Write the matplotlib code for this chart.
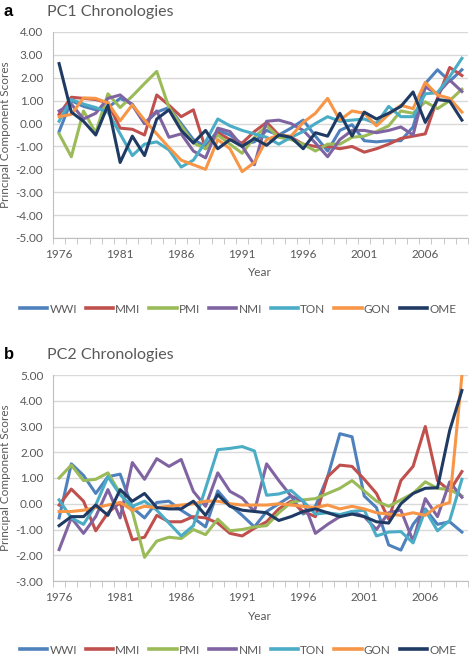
import numpy as np
import matplotlib.pyplot as plt

years = list(range(1976, 2010))
names = ['WWI', 'MMI', 'PMI', 'NMI', 'TON', 'GON', 'OME']
colors = ['#4F81BD', '#C0504D', '#9BBB59', '#8064A2', '#4BACC6', '#F79646', '#1F3B64']

# PC1 scores, 1976-2009
pc1_wwi = [-0.35, 1.0, 0.75, 0.6, 0.7, 1.1, 0.85, 0.0, 0.5, 0.7, 0.0, -0.7, -1.0, -0.3, -0.5, -0.9, -0.8,
           -0.3, -0.5, -0.2, 0.15, -0.55, -1.2, -0.3, -0.05, -0.75, -0.8, -0.75, -0.75, -0.15, 1.75, 2.35, 1.85, 2.35]
pc1_mmi = [0.4, 1.15, 1.1, 1.05, 0.9, -0.2, -0.25, -0.5, 1.25, 0.8, 0.3, 0.6, -1.1, -0.4, -0.7, -0.85, -0.35,
           0.05, -0.5, -0.6, -0.9, -1.0, -1.0, -1.1, -1.0, -1.25, -1.1, -0.9, -0.65, -0.55, -0.45, 1.1, 2.45, 2.1]
pc1_pmi = [-0.45, -1.45, 0.55, -0.4, 1.3, 0.7, 1.2, 1.75, 2.28, 0.7, -0.1, -0.85, -1.1, -0.5, -0.9, -1.3, -0.6,
           -0.1, -0.6, -0.7, -0.9, -1.2, -0.9, -0.9, -0.6, -0.55, -0.35, -0.1, 0.55, 0.45, 0.95, 0.65, 1.0, 1.5]
pc1_nmi = [0.55, 0.85, 0.2, 0.45, 1.1, 1.25, 0.8, 0.0, 0.55, -0.6, -0.45, -1.2, -1.5, -0.2, -0.35, -1.0, -1.8,
           0.1, 0.15, 0.0, -0.3, -0.85, -1.45, -0.7, -0.3, -0.3, -0.4, -0.3, -0.15, -0.5, 1.6, 1.3, 1.9, 1.4]
pc1_ton = [0.1, 1.05, 0.85, 0.7, 0.5, -0.45, -1.4, -0.9, -0.8, -1.15, -1.9, -1.6, -0.8, 0.2, -0.1, -0.3, -0.45,
           -0.6, -0.9, -0.6, -0.35, 0.0, 0.3, 0.1, 0.15, 0.2, 0.0, 0.75, 0.3, 0.3, 1.3, 1.35, 2.05, 2.85]
pc1_gon = [0.3, 0.4, 1.12, 1.1, 0.9, 0.12, 0.82, 0.15, -0.45, -1.05, -1.6, -1.8, -2.0, -0.7, -1.1, -2.1, -1.7,
           -0.7, -0.5, -0.55, 0.05, 0.45, 1.1, 0.15, 0.55, 0.45, -0.1, 0.4, 0.8, 0.65, 1.8, 1.25, 1.1, 0.5]
pc1_ome = [2.62, 0.5, 0.1, -0.5, 0.8, -1.7, -0.55, -1.4, 0.2, 0.6, -0.3, -0.85, -0.3, -1.1, -0.7, -1.0, -0.65,
           -0.95, -0.5, -0.6, -1.1, -0.4, -0.55, 0.45, -0.55, 0.5, 0.2, 0.45, 0.75, 1.38, 0.05, 1.05, 0.98, 0.15]

# PC2 scores, 1976-2009
pc2_wwi = [-0.55, 1.55, 1.1, 0.4, 1.05, 1.15, -0.15, -0.55, 0.05, 0.1, -0.25, -0.55, -0.9, 0.5, -0.05, -0.45, -0.9,
           -0.3, 0.0, 0.3, -0.4, -0.1, 1.05, 2.72, 2.6, 0.3, -0.15, -1.6, -1.8, -0.8, -0.2, -0.8, -0.7, -1.1]
pc2_mmi = [-0.05, 0.57, 0.1, -1.05, -0.35, 0.05, -1.4, -1.3, -0.45, -0.7, -0.7, -0.5, -0.55, -0.75, -1.15, -1.25, -0.95,
           -0.7, -0.2, 0.1, -0.3, -0.5, 1.05, 1.5, 1.45, 0.95, 0.4, -0.6, 0.9, 1.45, 3.0, 0.9, 0.5, 1.25]
pc2_pmi = [1.0, 1.5, 0.9, 0.95, 1.2, 0.4, -0.3, -2.08, -1.45, -1.3, -1.35, -1.0, -1.2, -0.6, -1.05, -1.0, -0.9,
           -0.85, -0.35, 0.05, 0.15, 0.2, 0.4, 0.6, 0.9, 0.5, 0.1, -0.1, 0.15, 0.4, 0.85, 0.6, 0.55, 0.3]
pc2_nmi = [-1.78, -0.55, -1.15, -0.5, 0.55, -0.55, 1.6, 0.95, 1.75, 1.45, 1.72, 0.48, -0.1, 1.2, 0.48, 0.22, -0.3,
           1.55, 0.9, 0.3, 0.1, -1.15, -0.8, -0.5, -0.3, -0.5, -1.0, -0.35, -0.25, -1.45, 0.2, -0.5, 0.85, 0.25]
pc2_ton = [0.15, -0.55, -0.8, -0.05, 1.05, 0.35, -0.1, 0.1, -0.25, -0.75, -1.25, -0.85, 0.6, 2.1, 2.15, 2.22, 2.05,
           0.33, 0.38, 0.52, 0.1, -0.4, -0.35, -0.42, -0.3, -0.25, -1.25, -1.1, -1.08, -1.52, -0.25, -1.05, -0.65, 0.95]
pc2_gon = [-0.3, -0.3, -0.25, -0.15, -0.05, 0.05, -0.25, -0.1, -0.15, -0.1, -0.05, 0.0, 0.1, 0.1, 0.0, -0.05, -0.05,
           -0.05, 0.0, -0.05, -0.1, -0.15, -0.05, -0.2, -0.1, -0.2, -0.35, -0.4, -0.45, -0.35, -0.45, -0.1, 0.05, 4.98]
pc2_ome = [-0.85, -0.5, -0.5, -0.05, -0.45, 0.55, 0.1, 0.4, -0.15, -0.2, -0.2, 0.1, -0.45, 0.35, -0.1, -0.25, -0.3,
           -0.35, -0.65, -0.5, -0.3, -0.2, -0.35, -0.5, -0.4, -0.5, -0.7, -0.75, 0.0, 0.4, 0.6, 0.62, 2.85, 4.4]

pc1 = [pc1_wwi, pc1_mmi, pc1_pmi, pc1_nmi, pc1_ton, pc1_gon, pc1_ome]
pc2 = [pc2_wwi, pc2_mmi, pc2_pmi, pc2_nmi, pc2_ton, pc2_gon, pc2_ome]

W, H = 472, 658
FONT = 'Lato'
GREY = '#595959'
GRID = '#D9D9D9'

fig = plt.figure(figsize=(W / 100, H / 100), dpi=100)


def fx(px):
    return px / W


def fy(py):
    return 1 - py / H


def panel(top, bottom, series, ymin, ymax, letter, title, legend_y, xlab_y):
    ax = fig.add_axes([fx(53), fy(bottom), fx(468) - fx(53), fy(top) - fy(bottom)])
    for vals, name, col in zip(series, names, colors):
        ax.plot(years, vals, color=col, lw=2.2, label=name)
    ax.set_xlim(1975.5, 2009.5)
    ax.set_ylim(ymin, ymax)
    yt = np.arange(ymin, ymax + 1)
    ax.set_yticks(yt)
    ax.set_yticklabels([f'{v:.2f}' for v in yt], family=FONT, fontsize=8.5, color=GREY)
    ax.set_xticks(years[::5])
    ax.set_xticklabels([str(y) for y in years[::5]], family=FONT, fontsize=8.5, color=GREY)
    ax.set_xticks(np.arange(1975.5, 2010, 1), minor=True)
    ax.tick_params(axis='x', which='major', length=0, pad=8)
    ax.tick_params(axis='x', which='minor', length=4, color='#BFBFBF')
    ax.tick_params(axis='y', length=0, pad=7)
    ax.grid(axis='y', color=GRID, lw=1)
    ax.set_axisbelow(True)
    for s in ['top', 'right']:
        ax.spines[s].set_visible(False)
    for s in ['left', 'bottom']:
        ax.spines[s].set_color('#BFBFBF')
    ax.set_ylabel('Principal Component Scores', family=FONT, fontsize=8.5, color=GREY, labelpad=3)
    fig.text(fx(260), fy(xlab_y), 'Year', family=FONT, fontsize=8.5, color=GREY, ha='center', va='center')
    fig.text(fx(4), fy(top - 21), letter, family='Liberation Sans', fontweight='bold', fontsize=12,
             va='center', ha='left')
    fig.text(fx(47), fy(top - 20), title, family=FONT, fontsize=11.5, color=GREY, va='center', ha='left')
    handles, labels = ax.get_legend_handles_labels()
    leg = fig.legend(handles, labels, loc='center', bbox_to_anchor=(fx(238), fy(legend_y)), ncol=7,
                     frameon=False, handlelength=2.3, handletextpad=0.2, columnspacing=0.75,
                     prop={'family': FONT, 'size': 8.5})
    for t in leg.get_texts():
        t.set_color(GREY)
    for l in leg.get_lines():
        l.set_linewidth(2.6)
    return ax


panel(32, 238, pc1, -5, 4, 'a', 'PC1 Chronologies', 309, 273)
panel(375, 581, pc2, -3, 5, 'b', 'PC2 Chronologies', 650, 616)

fig.savefig('out.png', dpi=100)
